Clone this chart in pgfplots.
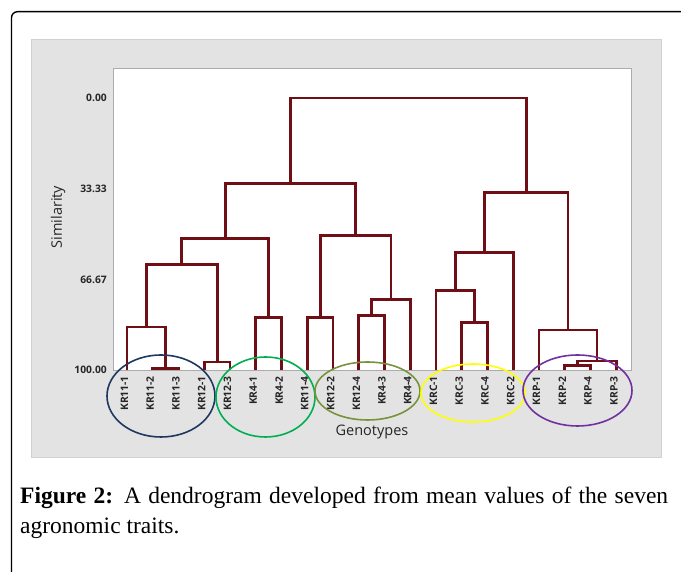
\documentclass[border=0pt]{standalone}
\usepackage{fontspec}
\setmainfont{Liberation Serif}
\newfontfamily\axfont{Open Sans}
\usepackage{pgfplots}
\pgfplotsset{compat=1.18}
\definecolor{dendro}{RGB}{112,14,22}
\definecolor{panel}{RGB}{227,227,227}
\definecolor{navyell}{RGB}{31,56,96}
\definecolor{greenell}{RGB}{0,176,80}
\definecolor{oliveell}{RGB}{119,147,60}
\definecolor{yellowell}{RGB}{255,255,0}
\definecolor{purpleell}{RGB}{112,48,160}
\pgfplotsset{link/.style={draw=dendro, solid, line width=2.8pt, mark=none}}
\begin{document}
\begin{tikzpicture}[x=1pt,y=1pt]
\useasboundingbox (0,0) rectangle (681,572);
\clip (0,0) rectangle (681,572);
\fill[panel] (31,115) rectangle (661,533);
\draw[gray!35, line width=0.8pt] (31,115) rectangle (661,533);
\draw[black, line width=1.4pt, rounded corners=6pt] (11.5,-20) -- (11.5,560.3) -- (720,560.3);
\begin{axis}[
  at={(113pt,201.5pt)}, anchor=south west,
  scale only axis, width=518pt, height=302pt,
  xmin=0.456, xmax=20.57, ymin=-10.8, ymax=100.1, y dir=reverse,
  axis background/.style={fill=white},
  axis line style={draw=gray!65, line width=0.9pt},
  xtick={1,...,20},
  xticklabels={KR11-1,KR11-2,KR11-3,KR12-1,KR12-3,KR4-1,KR4-2,KR11-4,KR12-2,KR12-4,KR4-3,KR4-4,KRC-1,KRC-3,KRC-4,KRC-2,KRP-1,KRP-2,KRP-4,KRP-3},
  ytick={0,33.33,66.67,100},
  yticklabels={0.00,33.33,66.67,100.00},
  major tick length=0pt,
  /pgf/number format/assume math mode=true,
  tick label style={font=\axfont\bfseries\fontsize{10.3}{12}\selectfont, text=black!85},
  xticklabel style={xshift=-2.5pt, yshift=-5.5pt, rotate=90, anchor=east, inner sep=0pt},
  yticklabel style={anchor=east, inner sep=0pt, xshift=-6pt},
  xlabel={Genotypes}, ylabel={Similarity},
  label style={font=\axfont\fontsize{14.5}{16}\selectfont, text=black!85},
  xlabel style={at={(axis description cs:0.5,-0.2036)}, anchor=center},
  ylabel style={at={(axis description cs:-0.106,0.508)}, anchor=center},
  clip=false,
]
\addplot[link] coordinates {(2,100) (2,99.4) (3,99.4) (3,100)};
\addplot[link] coordinates {(1,100) (1,84.1) (2.5,84.1) (2.5,99.4)};
\addplot[link] coordinates {(4,100) (4,97.0) (5,97.0) (5,100)};
\addplot[link] coordinates {(1.75,84.1) (1.75,61.2) (4.5,61.2) (4.5,97.0)};
\addplot[link] coordinates {(6,100) (6,80.7) (7,80.7) (7,100)};
\addplot[link] coordinates {(3.125,61.2) (3.125,51.6) (6.5,51.6) (6.5,80.7)};
\addplot[link] coordinates {(8,100) (8,80.7) (9,80.7) (9,100)};
\addplot[link] coordinates {(10,100) (10,79.9) (11,79.9) (11,100)};
\addplot[link] coordinates {(10.5,79.9) (10.5,74.0) (12,74.0) (12,100)};
\addplot[link] coordinates {(8.5,80.7) (8.5,50.4) (11.25,50.4) (11.25,74.0)};
\addplot[link] coordinates {(4.8125,51.6) (4.8125,31.3) (9.875,31.3) (9.875,50.4)};
\addplot[link] coordinates {(14,100) (14,82.5) (15,82.5) (15,100)};
\addplot[link] coordinates {(13,100) (13,70.7) (14.5,70.7) (14.5,82.5)};
\addplot[link] coordinates {(13.75,70.7) (13.75,56.7) (16,56.7) (16,100)};
\addplot[link] coordinates {(18,100) (18,98.2) (19,98.2) (19,100)};
\addplot[link] coordinates {(18.5,98.2) (18.5,96.6) (20,96.6) (20,100)};
\addplot[link] coordinates {(17,100) (17,85.2) (19.25,85.2) (19.25,96.6)};
\addplot[link] coordinates {(14.875,56.7) (14.875,34.7) (18.125,34.7) (18.125,85.2)};
\addplot[link] coordinates {(7.34375,31.3) (7.34375,0) (16.5,0) (16.5,34.7)};
\end{axis}
\draw[navyell, line width=1.6pt] (161,176) ellipse [x radius=54, y radius=41];
\draw[greenell, line width=1.6pt] (265.5,175) ellipse [x radius=49.5, y radius=40];
\draw[oliveell, line width=1.6pt] (367.5,181) ellipse [x radius=52.5, y radius=29];
\draw[yellowell, line width=1.6pt] (473,179) ellipse [x radius=52, y radius=29];
\draw[purpleell, line width=1.6pt] (577.5,181.5) ellipse [x radius=54.5, y radius=35.5];
\node[anchor=base west, inner sep=0pt, font=\fontsize{23.5}{30}\selectfont] at (20,68)
  {\makebox[648pt][s]{\textbf{Figure 2:} A dendrogram developed from mean values of the seven}};
\node[anchor=base west, inner sep=0pt, font=\fontsize{23.5}{30}\selectfont] at (20,38)
  {agronomic traits.};
\end{tikzpicture}
\end{document}
